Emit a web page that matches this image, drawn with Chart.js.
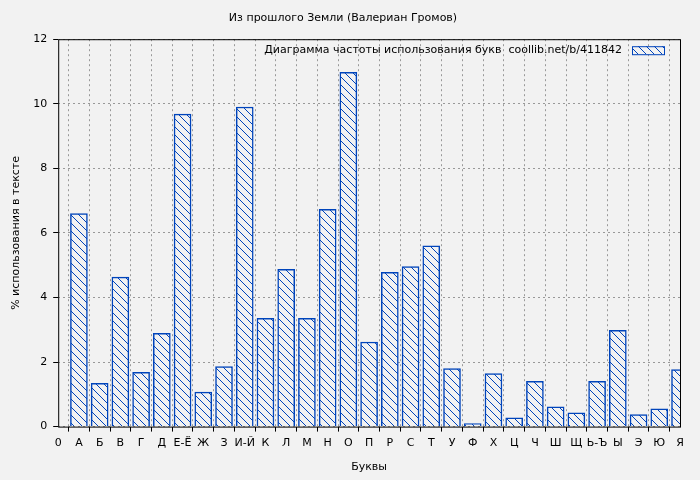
<!DOCTYPE html>
<html lang="en">
<head>
  <meta charset="UTF-8" />
  <title>Из прошлого Земли</title>
  <script src="https://cdn.jsdelivr.net/npm/chart.js"></script>
  <style>
    html, body { margin: 0; padding: 0; background: #f2f2f2; }
    #wrap { width: 700px; height: 480px; }
  </style>
</head>
<body>
  <div id="wrap"><canvas id="lettersChart"></canvas></div>
  <script>
    const tickLabels = ['0', 'А', 'Б', 'В', 'Г', 'Д', 'Е-Ё', 'Ж', 'З', 'И-Й', 'К', 'Л', 'М', 'Н', 'О', 'П',
      'Р', 'С', 'Т', 'У', 'Ф', 'Х', 'Ц', 'Ч', 'Ш', 'Щ', 'Ь-Ъ', 'Ы', 'Э', 'Ю', 'Я'];
    const letters = tickLabels.slice(1);
    const percents = [6.6, 1.34, 4.63, 1.68, 2.89, 9.68, 1.07, 1.86, 9.9, 3.35, 4.87, 3.35, 6.73, 10.97, 2.62,
      4.78, 4.96, 5.6, 1.8, 0.09, 1.64, 0.27, 1.4, 0.61, 0.43, 1.4, 2.98, 0.37, 0.55, 1.77];

    const font = { family: 'DejaVu Sans', size: 11, weight: 'normal' };
    Chart.defaults.font = font;
    Chart.defaults.color = '#000';

    function makeHatch() {
      const c = document.createElement('canvas');
      c.width = 8; c.height = 8;
      const g = c.getContext('2d');
      g.fillStyle = '#f2f2f2';
      g.fillRect(0, 0, 8, 8);
      g.strokeStyle = '#0044bb';
      g.lineWidth = 1;
      g.beginPath();
      g.moveTo(-1, -1); g.lineTo(9, 9);
      g.moveTo(-5, 3); g.lineTo(1, 9);
      g.moveTo(3, -5); g.lineTo(9, 1);
      g.stroke();
      return g.createPattern(c, 'repeat');
    }
    const hatch = makeHatch();

    const frameAndLegend = {
      id: 'frameAndLegend',
      afterDraw(chart) {
        const { ctx, chartArea: a } = chart;
        ctx.save();
        ctx.strokeStyle = '#000';
        ctx.lineWidth = 1;
        ctx.strokeRect(a.left + 0.5, a.top + 0.5, a.right - a.left, a.bottom - a.top);
        ctx.font = '11px "DejaVu Sans"';
        ctx.fillStyle = '#000';
        ctx.textAlign = 'right';
        ctx.textBaseline = 'middle';
        ctx.fillText('Диаграмма частоты использования букв  coollib.net/b/411842', a.right - 58, a.top + 11);
        ctx.fillStyle = hatch;
        ctx.fillRect(a.right - 48, a.top + 7, 32, 8);
        ctx.strokeStyle = '#0044bb';
        ctx.strokeRect(a.right - 47.5, a.top + 7.5, 32, 8);
        ctx.restore();
      }
    };

    new Chart(document.getElementById('lettersChart'), {
      type: 'bar',
      data: {
        datasets: [{
          data: letters.map((l, i) => ({ x: i + 1, y: percents[i] })),
          backgroundColor: hatch,
          borderColor: '#0044bb',
          borderWidth: 1.5,
          barThickness: 17
        }]
      },
      options: {
        responsive: true,
        maintainAspectRatio: false,
        animation: false,
        layout: { padding: { left: 6, right: 20, top: 0, bottom: 2 } },
        plugins: {
          legend: { display: false },
          tooltip: { enabled: false },
          title: {
            display: true,
            text: 'Из прошлого Земли (Валериан Громов)',
            font: font,
            padding: { top: 12, bottom: 14 }
          }
        },
        scales: {
          x: {
            type: 'linear',
            min: 0,
            max: 30,
            offset: false,
            ticks: { stepSize: 1, autoSkip: false, maxRotation: 0, callback: v => tickLabels[v], padding: 5 },
            grid: { color: '#999', tickColor: '#000', tickLength: 5, drawOnChartArea: true },
            border: { display: false, dash: [2, 3] },
            title: { display: true, text: 'Буквы', font: font, padding: { top: 6 } }
          },
          y: {
            min: 0,
            max: 12,
            ticks: { stepSize: 2, padding: 6 },
            grid: { color: '#999', tickColor: '#000', tickLength: 5 },
            border: { display: false, dash: [2, 3] },
            title: { display: true, text: '% использования в тексте', font: font }
          }
        }
      },
      plugins: [frameAndLegend]
    });
  </script>
</body>
</html>
